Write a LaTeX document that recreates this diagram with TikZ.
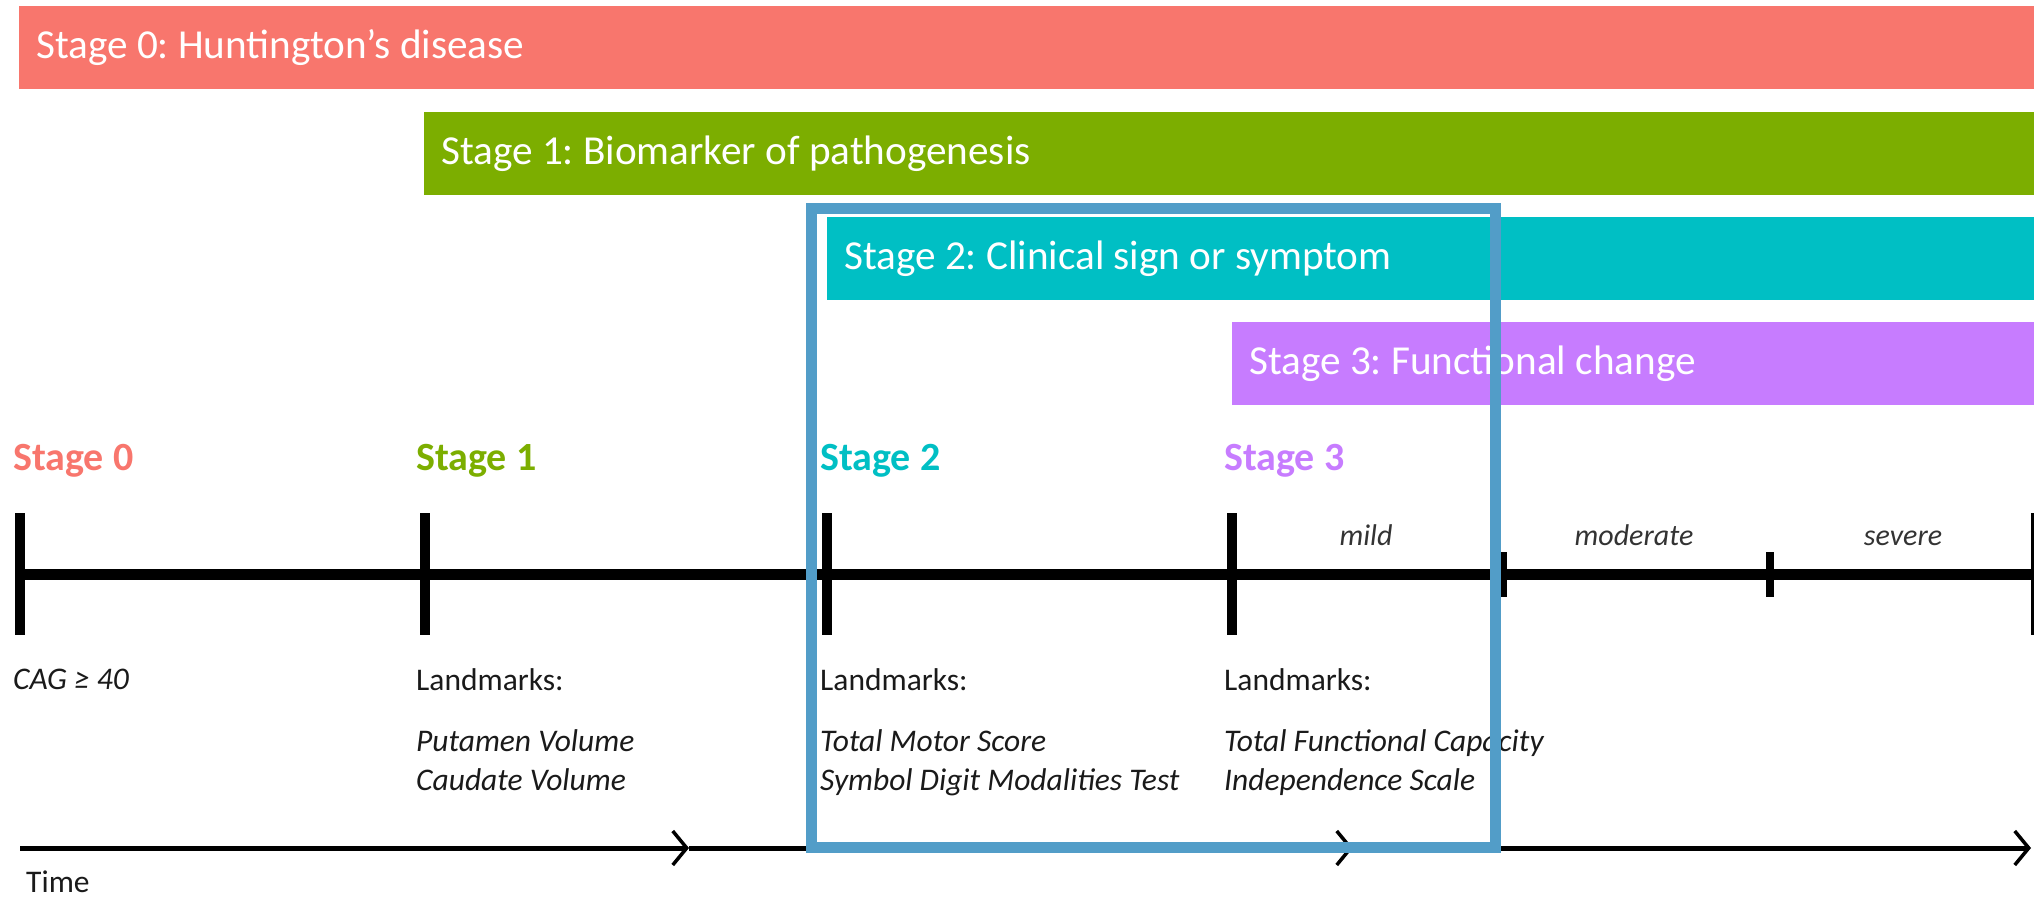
\documentclass[tikz,border=0pt]{standalone}
\usepackage{fontspec}
\setmainfont{Carlito}
\usetikzlibrary{arrows.meta}
\definecolor{czero}{HTML}{F8766D}
\definecolor{cone}{HTML}{7CAE00}
\definecolor{ctwo}{HTML}{00BFC4}
\definecolor{cthree}{HTML}{C77CFF}
\definecolor{boxblue}{RGB}{82,157,200}
\definecolor{txt}{HTML}{1A1A1A}
\frenchspacing
\begin{document}
\begin{tikzpicture}[x=1pt,y=-1pt,
  bar/.style={anchor=north west, minimum height=83pt, inner xsep=17pt, inner ysep=0pt,
    align=flush left, text=white, font=\fontsize{41.2}{48}\selectfont},
  stagelbl/.style={anchor=base west, inner sep=0pt, font=\fontsize{40}{48}\selectfont\bfseries},
  lm/.style={anchor=base west, inner sep=0pt, text=txt, font=\fontsize{31.5}{38}\selectfont},
  lmi/.style={lm, font=\fontsize{31.5}{38}\selectfont\itshape},
  sev/.style={anchor=base, inner sep=0pt, text=black!80, font=\fontsize{30}{36}\selectfont\itshape},
  mainline/.style={line width=11pt, black},
  bigtick/.style={line width=10pt, black},
  smalltick/.style={line width=8pt, black},
  timeline/.style={line width=5pt, black, -{Straight Barb[length=14pt, width=34pt, line width=3.5pt]}},
]
\useasboundingbox (0,0) rectangle (2034,916);

% stage bars
\node[bar, fill=czero,  text width=1981pt] (b0) at (19,6)   {Stage 0: Huntington’s disease};
\node[bar, fill=cone,   text width=1576pt] (b1) at (424,112) {Stage 1: Biomarker of pathogenesis};
\node[bar, fill=ctwo,   text width=1173pt] (b2) at (827,217) {Stage 2: Clinical sign or symptom};
\node[bar, fill=cthree, text width=768pt]  (b3) at (1232,322) {Stage 3: Functional change};

% stage labels
\node[stagelbl, text=czero]  (s0) at (13,470)   {Stage 0};
\node[stagelbl, text=cone]   (s1) at (416,470)  {Stage 1};
\node[stagelbl, text=ctwo]   (s2) at (820,470)  {Stage 2};
\node[stagelbl, text=cthree] (s3) at (1224,470) {Stage 3};

% main axis
\coordinate (t0) at (20,574);
\coordinate (t1) at (425,574);
\coordinate (t2) at (827,574);
\coordinate (t3) at (1232,574);
\coordinate (m1) at (1503,574);
\coordinate (m2) at (1770,574);
\coordinate (t4) at (2036,574);
\draw[mainline] (t0) -- (t4);
\foreach \t in {t0,t1,t2,t3,t4}{
  \draw[bigtick] ([yshift=61pt]\t) -- ([yshift=-61pt]\t);
}
\foreach \t in {m1,m2}{
  \draw[smalltick] ([yshift=22pt]\t) -- ([yshift=-23pt]\t);
}

% severity labels
\node[sev] (mild) at (1366,545) {mild};
\node[sev] (mod)  at (1634,545) {moderate};
\node[sev] (sevr) at (1903,545) {severe};

% landmarks
\node[lmi] (cag) at (13,689) {CAG ≥ 40};
\node[lm]  (l1)  at (416,690) {Landmarks:};
\node[lmi] (l1a) at (416,751) {Putamen Volume};
\node[lmi] (l1b) at (416,790) {Caudate Volume};
\node[lm]  (l2)  at (820,690) {Landmarks:};
\node[lmi] (l2a) at (820,751) {Total Motor Score};
\node[lmi] (l2b) at (820,790) {Symbol Digit Modalities Test};
\node[lm]  (l3)  at (1224,690) {Landmarks:};
\node[lmi] (l3a) at (1224,751) {Total Functional Capacity};
\node[lmi] (l3b) at (1224,790) {Independence Scale};

% time axis
\coordinate (ta) at (20,848);
\coordinate (a1) at (689,848);
\coordinate (a2) at (1353,848);
\coordinate (a3) at (2031,848);
\draw[timeline] (ta) -- (a1);
\draw[timeline] (a1) -- (a2);
\draw[timeline] (a2) -- (a3);
\node[lm] (time) at (26,892) {Time};

% highlight box
\node[draw=boxblue, line width=11pt, minimum width=684pt, minimum height=639pt,
  anchor=north west, inner sep=0pt, outer sep=0pt] (focus) at (811,208) {};
\end{tikzpicture}
\end{document}
